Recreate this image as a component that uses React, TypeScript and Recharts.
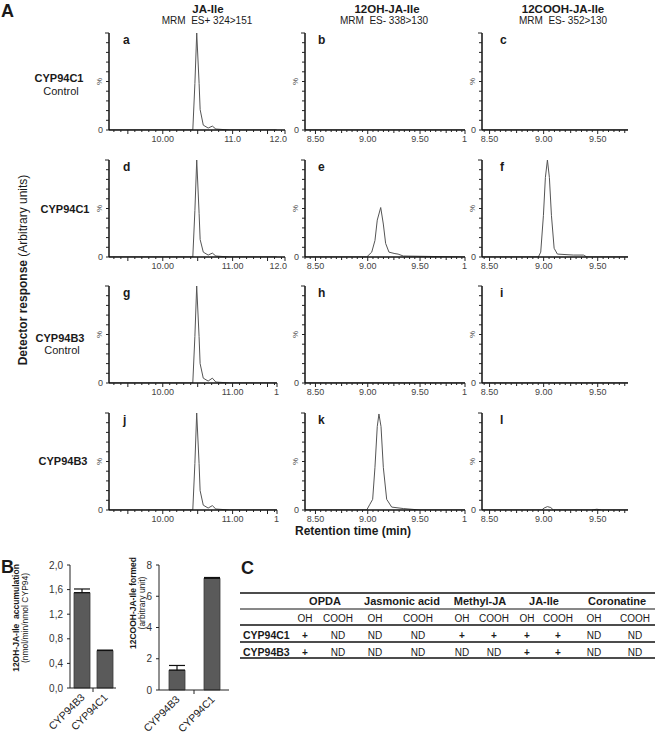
import React from 'react'
import { LineChart, Line, XAxis, YAxis, BarChart, Bar, ErrorBar } from 'recharts'

const FONT = '"Liberation Sans", Arial, sans-serif'

// --- chromatograms: retention time (min) / response (% of max) ---
const jaIleTime = [9.23, 10.43, 10.46, 10.486, 10.52, 10.535, 10.58, 10.65, 10.71, 10.76, 10.96, 11.63]
const traceA = [0, 0, 48, 100, 48, 21, 5, 2, 4, 1, 0, 0]
const traceD = [0, 0, 48, 100, 45, 18, 5, 2, 4, 1, 0, 0]
const traceG = [0, 0, 48, 100, 48, 20, 5, 2, 5, 1, 0, 0]
const traceJ = [0, 0, 48, 100, 48, 20, 5, 2, 4.5, 1, 0, 0]

const ohTimeE = [8.4, 8.99, 9.038, 9.069, 9.091, 9.124, 9.149, 9.171, 9.203, 9.26, 9.29, 9.34, 9.93]
const traceE = [0, 0, 5, 17, 38, 51, 34, 14, 5, 3.5, 3, 1, 0]
const ohTimeK = [8.4, 8.99, 9.021, 9.047, 9.069, 9.091, 9.107, 9.127, 9.149, 9.181, 9.229, 9.34, 9.5, 9.93]
const traceK = [0, 0, 6, 11, 44, 86, 99, 86, 44, 11, 3, 1.5, 0, 0]

const coohTimeF = [8.43, 8.951, 8.973, 8.998, 9.016, 9.035, 9.053, 9.072, 9.097, 9.127, 9.276, 9.368, 9.4, 9.78]
const traceF = [0, 0, 5, 43, 82, 100, 82, 43, 9, 3, 2, 2, 0, 0]
const coohTimeL = [8.43, 8.983, 9.004, 9.035, 9.066, 9.09, 9.446, 9.492, 9.538, 9.78]
const traceL = [0, 0, 2, 3.5, 2.5, 0, 0, 0.8, 0, 0]

const flatTime2 = [8.4, 9.93]
const flatTime3 = [8.43, 9.78]
const flatTrace = [0, 0]

// x tick labels
const col1Majors = [10, 11, 11.75]
const col1LabelsA = ['10.00', '11.0', '12.0']
const col1LabelsD = ['10.00', '11.00', '12.0']
const col1MajorsLow = [10, 11, 11.636]
const col1LabelsLow = ['10.00', '11.00', '1']
const col2Majors = [8.5, 9, 9.5, 9.93]
const col2Labels = ['8.50', '9.00', '9.50', '1']
const col3Majors = [8.5, 9, 9.5]
const col3Labels = ['8.50', '9.00', '9.50']
const yPctTicks = [0, 10, 20, 30, 40, 50, 60, 70, 80, 90, 100]

// --- panel B ---
const bCats = ['CYP94B3', 'CYP94C1']
const ohRate = [1.55, 0.61]
const ohRateErr = [0.06, 0.005]
const ohTicks = [0, 0.4, 0.8, 1.2, 1.6, 2.0]
const ohTickLabels = ['0,0', '0,4', '0,8', '1,2', '1,6', '2,0']
const coohFormed = [1.27, 7.15]
const coohFormedErr = [0.3, 0.05]
const coohTicks = [0, 2, 4, 6, 8]

// --- panel C ---
const compounds = ['OPDA', 'Jasmonic acid', 'Methyl-JA', 'JA-Ile', 'Coronatine']
const forms = ['OH', 'COOH', 'OH', 'COOH', 'OH', 'COOH', 'OH', 'COOH', 'OH', 'COOH']
const enzymes = ['CYP94C1', 'CYP94B3']
const cyp94c1Row = ['+', 'ND', 'ND', 'ND', '+', '+', '+', '+', 'ND', 'ND']
const cyp94b3Row = ['+', 'ND', 'ND', 'ND', 'ND', 'ND', '+', '+', 'ND', 'ND']

const compoundX = [325, 402, 480, 544, 617]
const formX = [305, 338, 375, 418, 462, 494, 527, 558, 594, 635]

const ML = 30
const MT = 6
const MR = 18
const MB = 22
const PH = 97

type Panel = {
  letter: string
  left: number
  top: number
  w: number
  letterDx: number
  domain: [number, number]
  step: number
  majors: number[]
  labels: string[]
  time: number[]
  values: number[]
}

const rowTops = [33, 160, 286, 413]

const panels: Panel[] = [
  { letter: 'a', left: 109, top: rowTops[0], w: 176, letterDx: 14, domain: [9.23, 11.75], step: 0.1, majors: col1Majors, labels: col1LabelsA, time: jaIleTime, values: traceA },
  { letter: 'b', left: 305, top: rowTops[0], w: 160, letterDx: 13, domain: [8.4, 9.93], step: 0.05, majors: col2Majors, labels: col2Labels, time: flatTime2, values: flatTrace },
  { letter: 'c', left: 482, top: rowTops[0], w: 146, letterDx: 18, domain: [8.43, 9.78], step: 0.05, majors: col3Majors, labels: col3Labels, time: flatTime3, values: flatTrace },
  { letter: 'd', left: 109, top: rowTops[1], w: 176, letterDx: 14, domain: [9.23, 11.75], step: 0.1, majors: col1Majors, labels: col1LabelsD, time: jaIleTime, values: traceD },
  { letter: 'e', left: 305, top: rowTops[1], w: 160, letterDx: 13, domain: [8.4, 9.93], step: 0.05, majors: col2Majors, labels: col2Labels, time: ohTimeE, values: traceE },
  { letter: 'f', left: 482, top: rowTops[1], w: 146, letterDx: 18, domain: [8.43, 9.78], step: 0.05, majors: col3Majors, labels: col3Labels, time: coohTimeF, values: traceF },
  { letter: 'g', left: 109, top: rowTops[2], w: 168, letterDx: 14, domain: [9.23, 11.636], step: 0.1, majors: col1MajorsLow, labels: col1LabelsLow, time: jaIleTime, values: traceG },
  { letter: 'h', left: 305, top: rowTops[2], w: 160, letterDx: 13, domain: [8.4, 9.93], step: 0.05, majors: col2Majors, labels: col2Labels, time: flatTime2, values: flatTrace },
  { letter: 'i', left: 482, top: rowTops[2], w: 146, letterDx: 18, domain: [8.43, 9.78], step: 0.05, majors: col3Majors, labels: col3Labels, time: flatTime3, values: flatTrace },
  { letter: 'j', left: 109, top: rowTops[3], w: 168, letterDx: 14, domain: [9.23, 11.636], step: 0.1, majors: col1MajorsLow, labels: col1LabelsLow, time: jaIleTime, values: traceJ },
  { letter: 'k', left: 305, top: rowTops[3], w: 160, letterDx: 13, domain: [8.4, 9.93], step: 0.05, majors: col2Majors, labels: col2Labels, time: ohTimeK, values: traceK },
  { letter: 'l', left: 482, top: rowTops[3], w: 146, letterDx: 18, domain: [8.43, 9.78], step: 0.05, majors: col3Majors, labels: col3Labels, time: coohTimeL, values: traceL },
]

const near = (a: number, b: number) => Math.abs(a - b) < 1e-6

function XTick(props: any) {
  const { x, y, payload, p } = props
  const v = payload.value
  const idx = p.majors.findIndex((m: number) => near(m, v))
  const half = near(v * 2, Math.round(v * 2))
  const quarter = near(v * 4, Math.round(v * 4))
  const len = idx >= 0 || half ? 4 : quarter && p.step < 0.1 ? 3 : 2
  const isEnd = near(v, p.domain[1])
  return (
    <g>
      <line x1={x} y1={y} x2={x} y2={y + len} stroke="#222" strokeWidth={1} />
      {idx >= 0 && (
        <text x={isEnd ? x + 2 : x} y={y + 12} textAnchor={isEnd ? 'end' : 'middle'} fontSize={9} fill="#444" fontFamily={FONT}>
          {p.labels[idx]}
        </text>
      )}
    </g>
  )
}

function YTick(props: any) {
  const { x, y, payload } = props
  const v = payload.value
  return (
    <g>
      <line x1={x} y1={y} x2={x - (v === 100 ? 4 : 3)} y2={y} stroke="#222" strokeWidth={1} />
      {v === 0 && (
        <text x={x - 6} y={y + 3} textAnchor="end" fontSize={9} fill="#444" fontFamily={FONT}>0</text>
      )}
      {v === 50 && (
        <text x={x - 7} y={y} transform={`rotate(-90 ${x - 7} ${y})`} textAnchor="middle" fontSize={8} fill="#444" fontFamily={FONT}>%</text>
      )}
    </g>
  )
}

function Chrom({ p }: { p: Panel }) {
  const data = p.time.map((t, i) => ({ t, v: p.values[i] }))
  const minor: number[] = []
  for (let k = Math.ceil(p.domain[0] / p.step - 1e-6); k * p.step <= p.domain[1] + 1e-6; k++) {
    minor.push(+(k * p.step).toFixed(3))
  }
  const ticks = minor.filter((m) => !p.majors.some((M) => near(M, m))).concat(p.majors).sort((a, b) => a - b)
  const axisStyle = { stroke: '#111', strokeWidth: 1.5 }
  return (
    <div style={{ position: 'absolute', left: p.left - ML, top: p.top - MT }}>
      <LineChart width={p.w + ML + MR} height={PH + MT + MB} data={data} margin={{ top: MT, right: MR, bottom: 0, left: 0 }}>
        <XAxis
          type="number"
          dataKey="t"
          domain={p.domain}
          ticks={ticks}
          interval={0}
          tickSize={0}
          tickMargin={0}
          height={MB}
          axisLine={axisStyle}
          tickLine={false}
          allowDataOverflow
          tick={(tp: any) => <XTick {...tp} p={p} />}
        />
        <YAxis
          type="number"
          domain={[0, 100]}
          ticks={yPctTicks}
          interval={0}
          tickSize={0}
          tickMargin={0}
          width={ML}
          axisLine={axisStyle}
          tickLine={false}
          allowDataOverflow
          tick={(tp: any) => <YTick {...tp} />}
        />
        <Line dataKey="v" type="linear" stroke="#555" strokeWidth={1} dot={false} isAnimationActive={false} />
      </LineChart>
    </div>
  )
}

function CatTick(props: any) {
  const { x, y, payload, index, half } = props
  return (
    <g>
      {index === 0 && <line x1={x + half} y1={y} x2={x + half} y2={y + 4} stroke="#222" />}
      <text x={x + 4} y={y + 10} transform={`rotate(-45 ${x + 4} ${y + 10})`} textAnchor="end" fontSize={10.5} fill="#222" fontFamily={FONT}>
        {payload.value}
      </text>
    </g>
  )
}

function RateChart(props: {
  left: number
  width: number
  yWidth: number
  xHeight: number
  right: number
  values: number[]
  errors: number[]
  ticks: number[]
  tickLabels: string[]
}) {
  const { left, width, yWidth, xHeight, right, values, errors, ticks, tickLabels } = props
  const data = bCats.map((c, i) => ({ c, v: values[i], e: [0, errors[i]] }))
  const plotW = width - yWidth - right
  const frame = { stroke: '#222', strokeWidth: 1 }
  const dom: [number, number] = [ticks[0], ticks[ticks.length - 1]]
  return (
    <div style={{ position: 'absolute', left, top: 555 }}>
      <BarChart width={width} height={186} data={data} margin={{ top: 10, right, bottom: 0, left: 0 }}>
        <XAxis
          dataKey="c"
          interval={0}
          tickSize={0}
          tickMargin={0}
          height={xHeight}
          axisLine={frame}
          tickLine={false}
          tick={(tp: any) => <CatTick {...tp} half={plotW / 4} />}
        />
        <XAxis xAxisId="top" orientation="top" dataKey="c" height={0} tick={false} axisLine={frame} tickLine={false} />
        <YAxis
          domain={dom}
          ticks={ticks}
          interval={0}
          width={yWidth}
          tickSize={3}
          tickMargin={4}
          axisLine={frame}
          tickLine={frame}
          tickFormatter={(v: number) => tickLabels[ticks.indexOf(v)]}
          tick={{ fontSize: 10, fill: '#333', fontFamily: FONT }}
        />
        <YAxis yAxisId="r" orientation="right" domain={dom} width={0} tick={false} axisLine={frame} tickLine={false} />
        <Bar dataKey="v" barSize={16} fill="#5a5a5a" stroke="#3a3a3a" strokeWidth={0.8} isAnimationActive={false}>
          <ErrorBar dataKey="e" width={8} stroke="#111" strokeWidth={1.2} direction="y" />
        </Bar>
      </BarChart>
    </div>
  )
}

const T = (p: any) => <text fontFamily={FONT} fill="#1a1a1a" {...p} />

export default function App() {
  const rows = [cyp94c1Row, cyp94b3Row]
  return (
    <div style={{ position: 'absolute', left: 0, top: 0, width: 656, height: 741, background: '#fff', overflow: 'hidden' }}>
      {panels.map((p) => (
        <Chrom key={p.letter} p={p} />
      ))}

      <RateChart left={0} width={130} yWidth={70} xHeight={53} right={14} values={ohRate} errors={ohRateErr} ticks={ohTicks} tickLabels={ohTickLabels} />
      <RateChart left={120} width={120} yWidth={39} xHeight={51} right={11} values={coohFormed} errors={coohFormedErr} ticks={coohTicks} tickLabels={coohTicks.map(String)} />

      <svg width={656} height={741} style={{ position: 'absolute', left: 0, top: 0, pointerEvents: 'none' }}>
        <T x={1} y={17} fontSize={18} fontWeight="bold">A</T>
        <T x={1} y={573} fontSize={18} fontWeight="bold">B</T>
        <T x={241} y={574} fontSize={18} fontWeight="bold">C</T>

        {/* column headers */}
        <T x={208} y={13} fontSize={11.5} fontWeight="bold" textAnchor="middle">JA-Ile</T>
        <T x={207} y={24} fontSize={10} textAnchor="middle" style={{ whiteSpace: 'pre' }}>{'MRM  ES+ 324>151'}</T>
        <T x={387} y={13} fontSize={11.5} fontWeight="bold" textAnchor="middle">12OH-JA-Ile</T>
        <T x={384} y={24} fontSize={10} textAnchor="middle" style={{ whiteSpace: 'pre' }}>{'MRM  ES- 338>130'}</T>
        <T x={563} y={13} fontSize={11.5} fontWeight="bold" textAnchor="middle">12COOH-JA-Ile</T>
        <T x={563} y={24} fontSize={10} textAnchor="middle" style={{ whiteSpace: 'pre' }}>{'MRM  ES- 352>130'}</T>

        {/* row labels */}
        <T x={59} y={82} fontSize={11} fontWeight="bold" textAnchor="middle">CYP94C1</T>
        <T x={61} y={95} fontSize={11} textAnchor="middle">Control</T>
        <T x={65} y={213} fontSize={11} fontWeight="bold" textAnchor="middle">CYP94C1</T>
        <T x={60} y={342} fontSize={11} fontWeight="bold" textAnchor="middle">CYP94B3</T>
        <T x={62} y={354} fontSize={11} textAnchor="middle">Control</T>
        <T x={63} y={465} fontSize={11} fontWeight="bold" textAnchor="middle">CYP94B3</T>

        {panels.map((p) => (
          <T key={p.letter} x={p.left + p.letterDx} y={p.top + 11} fontSize={12} fontWeight="bold">{p.letter}</T>
        ))}

        <T x={27} y={270} fontSize={12} textAnchor="middle" transform="rotate(-90 27 270)">
          <tspan fontWeight="bold">Detector response</tspan>
          <tspan> (Arbitrary units)</tspan>
        </T>
        <T x={353} y={535} fontSize={12} fontWeight="bold" textAnchor="middle">Retention time (min)</T>

        {/* panel B axis titles */}
        <T x={19} y={618} fontSize={8.5} fontWeight="bold" textAnchor="middle" transform="rotate(-90 19 618)" style={{ whiteSpace: 'pre' }}>{'12OH-JA-Ile  accumulation'}</T>
        <T x={28} y={618} fontSize={8.5} textAnchor="middle" transform="rotate(-90 28 618)">(nmol/min/nmol CYP94)</T>
        <T x={136} y={603} fontSize={8.5} fontWeight="bold" textAnchor="middle" transform="rotate(-90 136 603)">12COOH-JA-Ile formed</T>
        <T x={145} y={603} fontSize={8.5} textAnchor="middle" transform="rotate(-90 145 603)">(arbitrary unit)</T>

        {/* panel C table */}
        <line x1={240} x2={655} y1={593} y2={593} stroke="#111" strokeWidth={1.6} />
        <line x1={240} x2={655} y1={609} y2={609} stroke="#111" strokeWidth={1} />
        <line x1={240} x2={655} y1={625} y2={625} stroke="#111" strokeWidth={1.6} />
        <line x1={240} x2={655} y1={642} y2={642} stroke="#111" strokeWidth={1.3} />
        <line x1={240} x2={655} y1={658} y2={658} stroke="#111" strokeWidth={1.6} />
        {compounds.map((c, i) => (
          <T key={c} x={compoundX[i]} y={605} fontSize={11} fontWeight="bold" textAnchor="middle">{c}</T>
        ))}
        {forms.map((f, i) => (
          <T key={'f' + i} x={formX[i]} y={621.5} fontSize={10} textAnchor="middle">{f}</T>
        ))}
        {enzymes.map((e, r) => (
          <g key={e}>
            <T x={243} y={638.5 + r * 17} fontSize={10.5} fontWeight="bold">{e}</T>
            {rows[r].map((s, i) => (
              <T key={i} x={formX[i]} y={638.5 + r * 17} fontSize={10} fontWeight={s === '+' ? 'bold' : 'normal'} textAnchor="middle">{s}</T>
            ))}
          </g>
        ))}
      </svg>
    </div>
  )
}
